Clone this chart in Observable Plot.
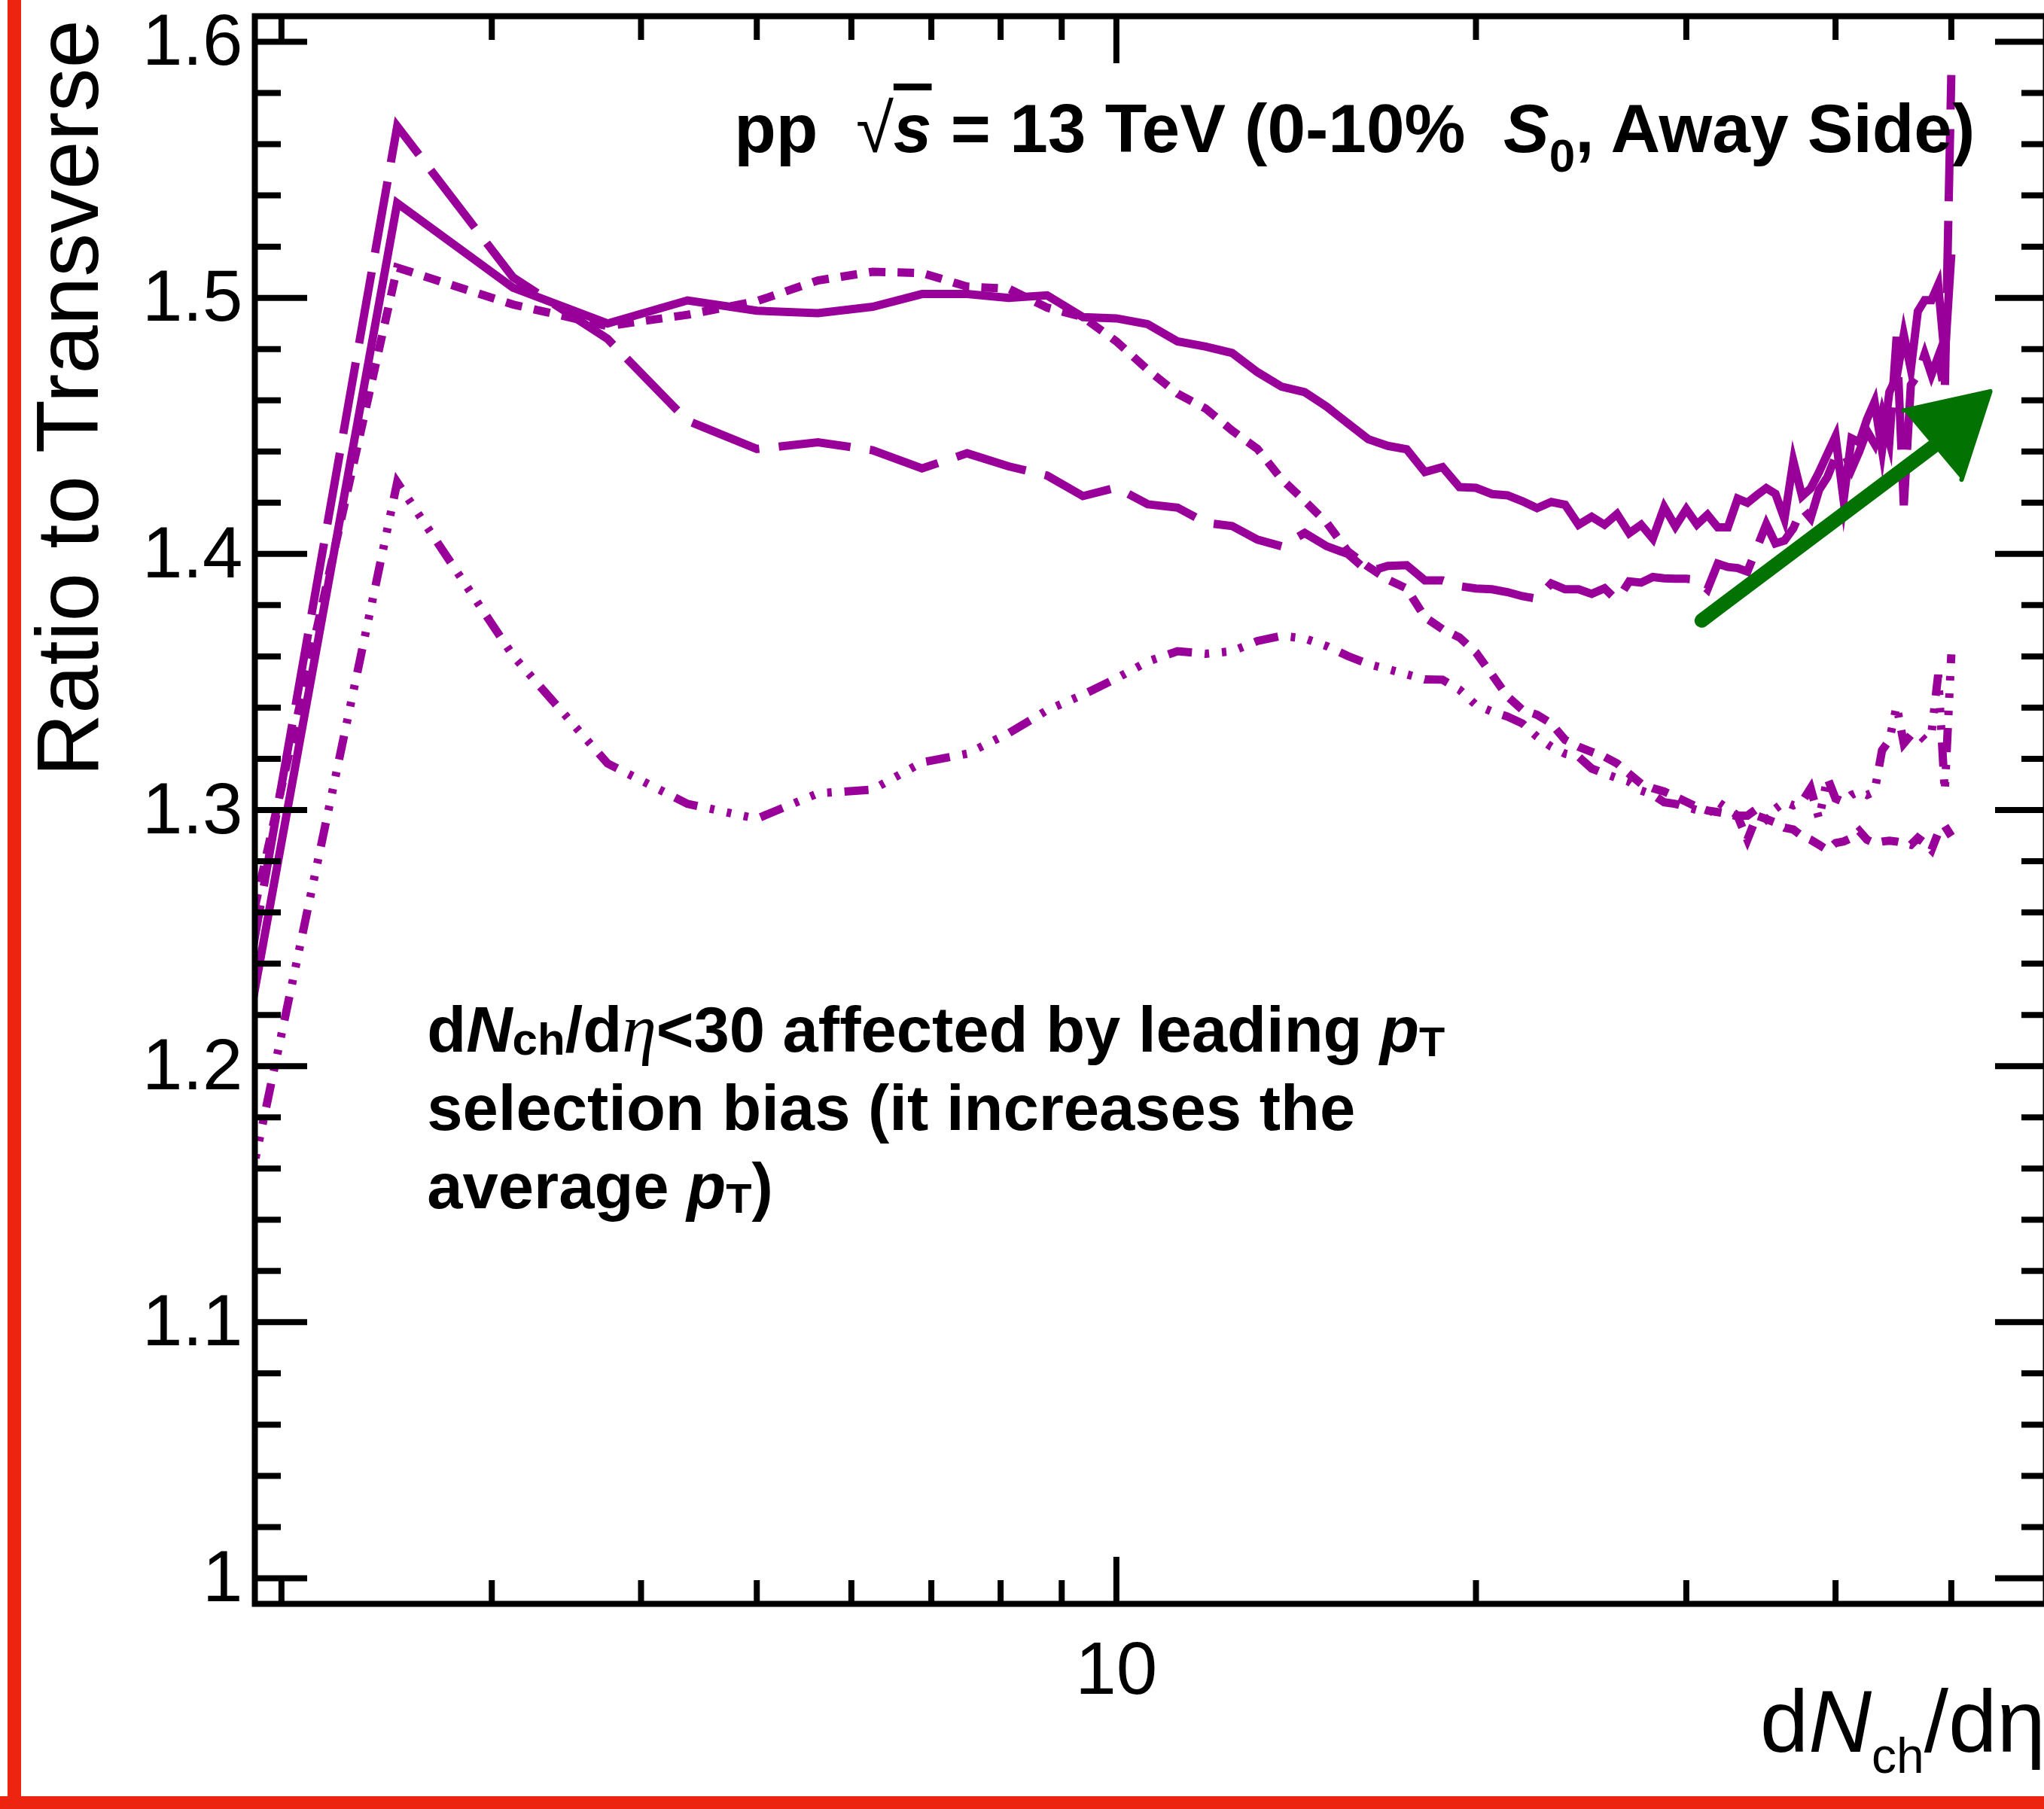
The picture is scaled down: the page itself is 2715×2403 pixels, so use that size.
<!DOCTYPE html>
<html>
<head>
<meta charset="utf-8">
<script src="https://cdn.jsdelivr.net/npm/d3@7"></script>
<script src="https://cdn.jsdelivr.net/npm/@observablehq/plot@0.6"></script>
<style>
  html, body { margin: 0; padding: 0; background: #fff; overflow: hidden; width: 2715px; height: 2403px; }
  #chart { position: absolute; left: 0; top: 0; width: 2730px; }
  .red-left { position: absolute; left: 10px; top: 0; width: 18px; height: 2403px; background: #ec2410; }
  .red-bottom { position: absolute; left: 0; top: 2386px; width: 2715px; height: 17px; background: #ec2410; }
</style>
</head>
<body>
<div id="chart"></div>
<div class="red-left"></div>
<div class="red-bottom"></div>
<script>
// ---- data -------------------------------------------------------------
const dNdeta = [1.875, 2.5, 3.125, 3.75, 4.375, 5, 5.625, 6.25, 6.875, 7.5,
  8.125, 8.75, 9.375, 10, 10.625, 11.25, 11.875, 12.5, 13.125, 13.75,
  14.375, 15, 15.625, 16.25, 16.875, 17.5, 18.125, 18.75, 19.375, 20,
  20.625, 21.25, 21.875, 22.5, 23.125, 23.75, 24.375, 25, 25.625, 26.25,
  26.875, 27.5, 28.125, 28.75, 29.375, 30, 30.625, 31.25, 31.875, 32.5,
  33.125, 33.75, 34.375, 35, 35.625, 36.25, 36.875, 37.5, 38.125, 38.75,
  39.375, 40, 40.625, 41.25, 41.875, 42.5, 43.125, 43.75, 44.375, 45,
  45.625, 46.25, 46.875, 47.5, 48.125, 48.75, 49.375, 50];

const solidRatio = [1.215, 1.537, 1.504, 1.490, 1.499, 1.495, 1.494, 1.4965, 1.5015, 1.5015,
  1.500, 1.501, 1.4925, 1.492, 1.4897, 1.483, 1.481, 1.4785, 1.471, 1.4653,
  1.4632, 1.4575, 1.451, 1.4448, 1.4422, 1.4409, 1.432, 1.4339, 1.4261, 1.4258,
  1.4234, 1.4229, 1.4206, 1.4179, 1.4203, 1.4192, 1.4114, 1.4145, 1.4114, 1.4156,
  1.4081, 1.4114, 1.406, 1.4183, 1.4108, 1.4175, 1.4115, 1.4153, 1.4104, 1.4104,
  1.4216, 1.42, 1.423, 1.4257, 1.4235, 1.4137, 1.4363, 1.4226, 1.4256, 1.432,
  1.439, 1.4459, 1.4211, 1.4451, 1.4436, 1.4526, 1.4594, 1.4406, 1.4632, 1.4691,
  1.4856, 1.4721, 1.4947, 1.4991, 1.4991, 1.5051, 1.4766, 1.517];

const longDashRatio = [1.235, 1.567, 1.508, 1.484, 1.452, 1.441, 1.4436, 1.4405, 1.4334, 1.4393,
  1.4342, 1.4306, 1.4226, 1.4259, 1.4194, 1.4181, 1.4122, 1.4109, 1.4056, 1.403,
  1.4082, 1.403, 1.400, 1.393, 1.3953, 1.3956, 1.3897, 1.3897, 1.3874, 1.3865,
  1.3862, 1.3851, 1.3835, 1.3825, 1.3885, 1.3862, 1.3862, 1.3844, 1.3866, 1.3818,
  1.3893, 1.3888, 1.391, 1.3905, 1.3903, 1.3903, 1.390, 1.3862, 1.3962, 1.3949,
  1.3945, 1.3931, 1.4024, 1.4116, 1.4041, 1.4052, 1.410, 1.418, 1.414, 1.425,
  1.430, 1.438, 1.440, 1.433, 1.440, 1.448, 1.443, 1.455, 1.444, 1.4848,
  1.419, 1.466, 1.470, 1.478, 1.470, 1.477, 1.463, 1.587];

const dottedRatio = [1.25, 1.5118, 1.4974, 1.489, 1.4934, 1.4987, 1.5068, 1.5102, 1.5097, 1.5044,
  1.5036, 1.4962, 1.4925, 1.483, 1.4719, 1.4626, 1.4568, 1.4482, 1.441, 1.4292,
  1.4207, 1.4122, 1.401, 1.395, 1.390, 1.3865, 1.3753, 1.3706, 1.3674, 1.3615,
  1.3529, 1.3444, 1.3391, 1.3372, 1.3338, 1.3274, 1.3247, 1.3227, 1.3208, 1.3182,
  1.3141, 1.3103, 1.3085, 1.3072, 1.3052, 1.3032, 1.3012, 1.2998, 1.2992, 1.2985,
  1.2975, 1.2884, 1.2978, 1.2965, 1.2951, 1.2931, 1.2924, 1.2898, 1.2884, 1.2864,
  1.2844, 1.2871, 1.2877, 1.2891, 1.2918, 1.2884, 1.2871, 1.2877, 1.288, 1.2877,
  1.2871, 1.2864, 1.2891, 1.2871, 1.2844, 1.2911, 1.2938, 1.2898];

const dashDotRatio = [1.150, 1.428, 1.3603, 1.3182, 1.3024, 1.2966, 1.3065, 1.308, 1.3186, 1.322,
  1.330, 1.339, 1.345, 1.3514, 1.358, 1.362, 1.361, 1.362, 1.366, 1.368,
  1.367, 1.364, 1.3601, 1.357, 1.355, 1.353, 1.351, 1.3509, 1.347, 1.341,
  1.3385, 1.3365, 1.3338, 1.3286, 1.3247, 1.322, 1.3208, 1.3162, 1.3142, 1.3125,
  1.311, 1.3076, 1.306, 1.303, 1.3024, 1.3012, 1.300, 1.2985, 1.3032, 1.3005,
  1.2978, 1.2978, 1.3005, 1.2965, 1.3005, 1.3032, 1.3018, 1.3032, 1.3085, 1.2965,
  1.3126, 1.3045, 1.3032, 1.3059, 1.3072, 1.3059, 1.3072, 1.3233, 1.3273, 1.3407,
  1.326, 1.3293, 1.33, 1.3273, 1.33, 1.3528, 1.3072, 1.3608];

const yMajor = [1.0, 1.1, 1.2, 1.3, 1.4, 1.5, 1.6];
const yTickLabels = ["1", "1.1", "1.2", "1.3", "1.4", "1.5", "1.6"];
const yMinor = [1.02, 1.04, 1.06, 1.08, 1.12, 1.14, 1.16, 1.18, 1.22, 1.24, 1.26, 1.28,
  1.32, 1.34, 1.36, 1.38, 1.42, 1.44, 1.46, 1.48, 1.52, 1.54, 1.56, 1.58];
const xMajor = [10];
const xTickLabels = ["10"];
const xMinor = [2, 3, 4, 5, 6, 7, 8, 9, 20, 30, 40, 50];

// hand-drawn green arrow (data coordinates)
const arrowShaft = [{x1: 30.9, y1: 1.374, x2: 48.3, y2: 1.442}];
const arrowHead = [[45.6, 1.456], [53.9, 1.4635], [51.0, 1.429]];

// text anchors (data coordinates)
const titleAnchor = {x: 4.79, y: 1.5568};
const noteAnchor = {x: 2.65, y: 1.2056};

// ---- chart ------------------------------------------------------------
const purple = "#990099";
const green = "#027202";
const rows = s => dNdeta.map((x, i) => ({x, y: s[i]}));
const lineStyle = {
  x: d => d.x, y: d => d.y, stroke: purple, strokeWidth: 11,
  strokeLinejoin: "miter", strokeMiterlimit: 10, strokeLinecap: "butt", clip: true
};

const W = 2730, H = 2403;
const mL = 338, mR = 13, mT = 21, mB = 273;
const TW = 8;

const plot = Plot.plot({
  width: W, height: H,
  marginLeft: mL, marginRight: mR, marginTop: mT, marginBottom: mB,
  style: {fontFamily: "Liberation Sans", fontSize: "94px", maxWidth: "none", background: "transparent", color: "#000"},
  x: {type: "log", domain: [1.9, 60]},
  y: {domain: [0.99, 1.61]},
  marks: [
    Plot.line(rows(dashDotRatio), {...lineStyle, strokeDasharray: "32,17,6,17,6,17,6,17"}),
    Plot.line(rows(dottedRatio), {...lineStyle, strokeDasharray: "22,16"}),
    Plot.line(rows(longDashRatio), {...lineStyle, strokeDasharray: "96,26"}),
    Plot.line(rows(solidRatio), {...lineStyle}),
    Plot.link(arrowShaft, {x1: d => d.x1, y1: d => d.y1, x2: d => d.x2, y2: d => d.y2,
      stroke: green, strokeWidth: 19, strokeLinecap: "round"}),
    Plot.line(arrowHead, {x: d => d[0], y: d => d[1], fill: green, stroke: green,
      strokeWidth: 6, strokeLinejoin: "round"}),
    Plot.frame({stroke: "#000", strokeWidth: TW}),
    Plot.axisY(yMajor, {anchor: "left", tickSize: -70, fill: "none", strokeWidth: TW}),
    Plot.axisY(yMinor, {anchor: "left", tickSize: -35, fill: "none", strokeWidth: TW}),
    Plot.axisY(yMajor, {anchor: "right", tickSize: -68, fill: "none", strokeWidth: TW}),
    Plot.axisY(yMinor, {anchor: "right", tickSize: -33, fill: "none", strokeWidth: TW}),
    Plot.axisX(xMajor, {anchor: "bottom", tickSize: -62, fill: "none", strokeWidth: TW}),
    Plot.axisX(xMinor, {anchor: "bottom", tickSize: -31, fill: "none", strokeWidth: TW}),
    Plot.axisX(xMajor, {anchor: "top", tickSize: -62, fill: "none", strokeWidth: TW}),
    Plot.axisX(xMinor, {anchor: "top", tickSize: -31, fill: "none", strokeWidth: TW}),
    Plot.axisY(yMajor, {anchor: "left", tickSize: 0, tickPadding: 16, label: null,
      tickFormat: d => yTickLabels[yMajor.indexOf(d)], fontSize: 96}),
    Plot.axisX(xMajor, {anchor: "bottom", tickSize: 0, tickPadding: 50, label: null,
      tickFormat: d => xTickLabels[xMajor.indexOf(d)], fontSize: 98})
  ]
});
document.getElementById("chart").appendChild(plot);

// ---- rich text --------------------------------------------------------
const svg = d3.select(plot);
const sx = plot.scale("x"), sy = plot.scale("y");

function richText(x, y, parts, base) {
  const t = svg.append("text")
    .attr("x", x).attr("y", y)
    .attr("font-family", base.family || "Liberation Sans")
    .attr("font-size", base.size)
    .attr("font-weight", base.weight || "normal")
    .attr("text-anchor", base.anchor || "start")
    .attr("fill", "#000")
    .style("white-space", "pre");
  if (base.transform) t.attr("transform", base.transform);
  for (const p of parts) {
    const s = t.append("tspan").text(p.t);
    if (p.style) s.attr("font-style", p.style);
    if (p.weight) s.attr("font-weight", p.weight);
    if (p.size) s.attr("font-size", p.size);
    if (p.family) s.attr("font-family", p.family);
    if (p.dy) s.attr("dy", p.dy);
    if (p.deco) s.attr("text-decoration", p.deco);
  }
  return t;
}

// header
richText(sx.apply(titleAnchor.x), sy.apply(titleAnchor.y), [
  {t: "pp  "},
  {t: "\u221A", weight: "normal"},
  {t: "s", style: "italic", deco: "overline"},
  {t: " = 13 TeV (0-10%  "},
  {t: "S", style: "italic"},
  {t: "0", size: 62, dy: 26},
  {t: ", Away Side)", dy: -26}
], {size: 91, weight: "bold"});

// note
const nx = sx.apply(noteAnchor.x), ny = sy.apply(noteAnchor.y), lead = 104;
richText(nx, ny, [
  {t: "d"}, {t: "N", style: "italic"},
  {t: "ch", size: 60, dy: 4},
  {t: "/d", dy: -4},
  {t: "\u03B7", family: "Liberation Serif", style: "italic", weight: "normal", size: 92},
  {t: "<30 affected by leading "},
  {t: "p", style: "italic"},
  {t: "T", size: 56, dy: 6}
], {size: 85, weight: "bold"});
richText(nx, ny + lead, [{t: "selection bias (it increases the"}], {size: 85, weight: "bold"});
richText(nx, ny + 2 * lead, [
  {t: "average "}, {t: "p", style: "italic"}, {t: "T", size: 56, dy: 6}, {t: ")", dy: -6}
], {size: 85, weight: "bold"});

// axis titles
richText(W - mR, H - mB + 197, [
  {t: "d"}, {t: "N", style: "italic"}, {t: "ch", size: 66, dy: 28}, {t: "/d\u03B7", dy: -28}
], {size: 116, anchor: "end"});

richText(0, 0, [{t: "Ratio to Transverse"}],
  {size: 116, anchor: "end", transform: `translate(130,${mT + 5}) rotate(-90)`});
</script>
</body>
</html>
